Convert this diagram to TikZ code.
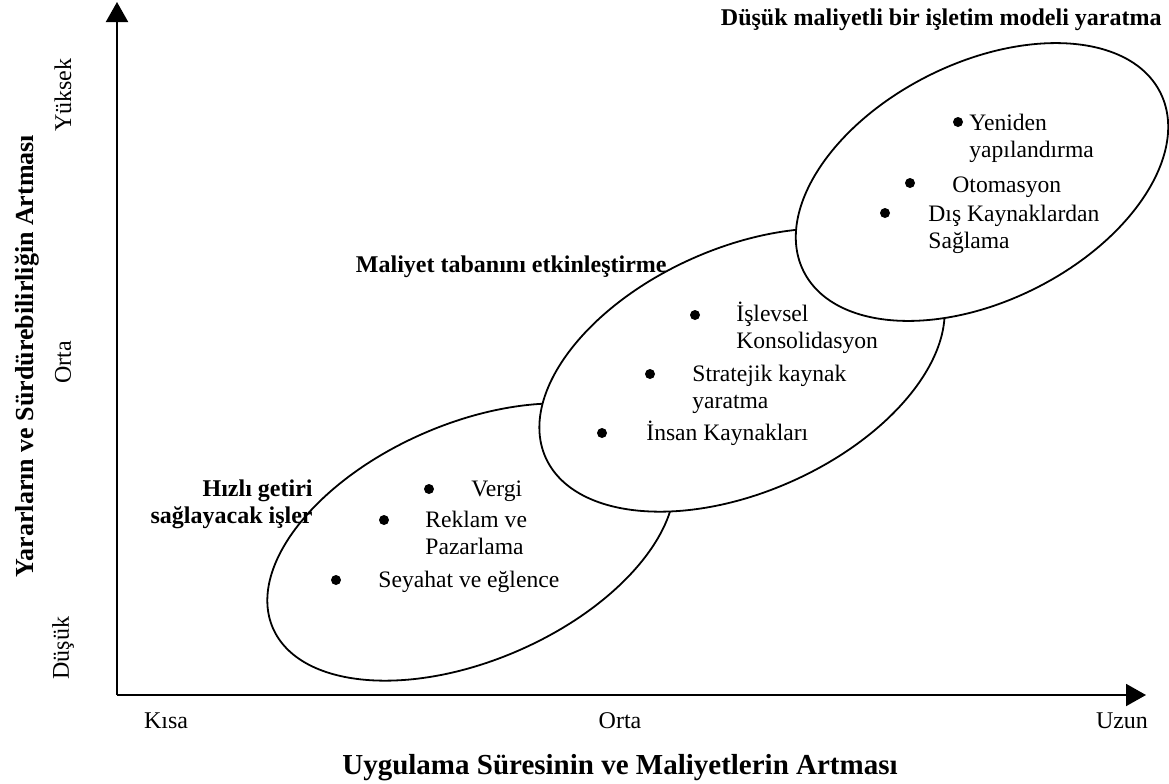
\documentclass[tikz,border=0pt]{standalone}
\usepackage{fontspec}
\setmainfont{Liberation Serif}
\usepackage{tikz}
\usetikzlibrary{arrows.meta,positioning}
\definecolor{axisInk}{HTML}{000000}

\begin{document}
\begin{tikzpicture}[x=0.5pt,y=-0.5pt,
    axis/.style={draw=axisInk,line width=1pt,-{Triangle[length=10pt,width=11pt]}},
    zone/.style={draw=black,fill=white,line width=0.9pt},
    dot/.style={circle,fill=black,inner sep=0pt,minimum size=5pt},
    item/.style={font=\fontsize{11.8}{13.5}\selectfont,inner sep=0pt,align=left,anchor=base west},
    group/.style={font=\fontsize{12}{13.5}\selectfont\bfseries,inner sep=0pt},
    tick/.style={font=\fontsize{12}{14}\selectfont,inner sep=0pt},
    title/.style={font=\fontsize{14.5}{16}\selectfont\bfseries,inner sep=0pt}]
  \useasboundingbox (0,0) rectangle (1169,783);

  % axes
  \coordinate (origin) at (117,695);
  \coordinate (xend) at (1146,695);
  \coordinate (yend) at (117,2);
  \draw[axis] (origin) -- (xend);
  \draw[axis] (origin) -- (yend);

  % zones, lower first
  \draw[zone] (471,542) ellipse [x radius=216, y radius=118.5, rotate=23.5];
  \draw[zone] (742,370) ellipse [x radius=215, y radius=122, rotate=24];
  \draw[zone] (982,182) ellipse [x radius=199.5, y radius=119, rotate=26.6];

  % lower zone
  \node[group,align=right,anchor=base east] (quick) at (313,523) {Hızlı getiri\\sağlayacak işler};
  \node[dot] (dVergi) at (429,489) {};
  \node[item] (tVergi) at (471,496) {Vergi};
  \node[dot] (dReklam) at (384,520) {};
  \node[item] (tReklam) at (425,554) {Reklam ve\\Pazarlama};
  \node[dot] (dSeyahat) at (336,580) {};
  \node[item] (tSeyahat) at (378,587) {Seyahat ve eğlence};

  % middle zone
  \node[group,anchor=base east] (base) at (667,272) {Maliyet tabanını etkinleştirme};
  \node[dot] (dIslev) at (695,315) {};
  \node[item] (tIslev) at (736,348) {İşlevsel\\Konsolidasyon};
  \node[dot] (dStrat) at (650,374) {};
  \node[item] (tStrat) at (692,408) {Stratejik kaynak\\yaratma};
  \node[dot] (dInsan) at (602,433) {};
  \node[item] (tInsan) at (646,440) {İnsan Kaynakları};

  % upper zone
  \node[group,anchor=base east] (model) at (1162,25) {Düşük maliyetli bir işletim modeli yaratma};
  \node[dot] (dYeni) at (958,122) {};
  \node[item] (tYeni) at (969,157) {Yeniden\\yapılandırma};
  \node[dot] (dOto) at (910,183) {};
  \node[item] (tOto) at (952,192) {Otomasyon};
  \node[dot] (dDis) at (885,213) {};
  \node[item] (tDis) at (928,248) {Dış Kaynaklardan\\Sağlama};

  % axis labels
  \node[tick] (kisa) at (166,721) {Kısa};
  \node[tick] (ortaX) at (620,721) {Orta};
  \node[tick] (uzun) at (1122,721) {Uzun};
  \node[title] (xTitle) at (620,768) {Uygulama Süresinin ve Maliyetlerin Artması};
  \node[tick,rotate=90] (yuksek) at (63,95) {Yüksek};
  \node[tick,rotate=90] (ortaY) at (63,362) {Orta};
  \node[tick,rotate=90] (dusuk) at (63,648) {Düşük};
  \node[title,font=\fontsize{13}{15}\selectfont\bfseries,rotate=90] (yTitle) at (27,356) {Yararların ve Sürdürebilirliğin Artması};
\end{tikzpicture}
\end{document}
